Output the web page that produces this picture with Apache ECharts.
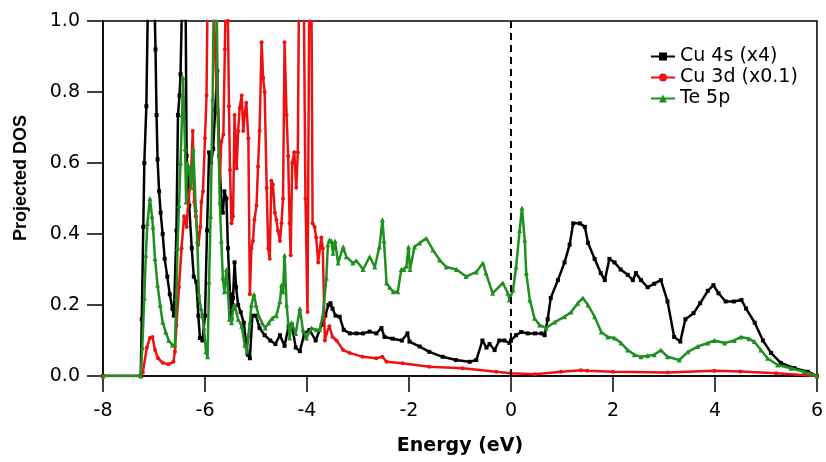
<!DOCTYPE html>
<html>
<head>
<meta charset="utf-8">
<script src="https://cdn.jsdelivr.net/npm/echarts@6/dist/echarts.min.js"></script>
<style>
html,body{margin:0;padding:0;background:#fff;}
#chart{width:826px;height:462px;}
</style>
</head>
<body>
<div id="chart"></div>
<script>
// Axis ticks
const xTicks = [-8, -6, -4, -2, 0, 2, 4, 6];
const yTicks = [0.0, 0.2, 0.4, 0.6, 0.8, 1.0];
const seriesNames = ['Cu 4s (x4)', 'Cu 3d (x0.1)', 'Te 5p'];
const fermiLevel = 0;

// Cu 4s (x4): [energy, DOS]
const cu4s = [[-8,0],[-7.26,0],[-7.24,0.16],[-7.21,0.42],[-7.19,0.6],[-7.15,0.76],[-7.12,1.05],[-7.05,1.4],[-6.99,1.05],[-6.97,0.92],[-6.95,0.735],[-6.93,0.61],[-6.9,0.52],[-6.87,0.46],[-6.83,0.4],[-6.79,0.33],[-6.74,0.28],[-6.69,0.23],[-6.64,0.19],[-6.61,0.17],[-6.56,0.41],[-6.53,0.735],[-6.5,0.79],[-6.48,0.85],[-6.45,1.05],[-6.42,1.4],[-6.38,1.05],[-6.36,0.62],[-6.31,0.48],[-6.26,0.36],[-6.22,0.28],[-6.17,0.265],[-6.13,0.17],[-6.1,0.107],[-6.05,0.1],[-6.0,0.17],[-5.96,0.41],[-5.92,0.63],[-5.88,0.6],[-5.84,0.64],[-5.8,0.75],[-5.76,0.86],[-5.72,0.62],[-5.68,0.49],[-5.65,0.46],[-5.62,0.52],[-5.58,0.5],[-5.55,0.36],[-5.51,0.23],[-5.48,0.16],[-5.45,0.22],[-5.42,0.32],[-5.39,0.25],[-5.35,0.2],[-5.3,0.18],[-5.24,0.15],[-5.2,0.1],[-5.16,0.06],[-5.12,0.05],[-5.07,0.17],[-5.0,0.17],[-4.93,0.135],[-4.83,0.115],[-4.72,0.1],[-4.62,0.09],[-4.53,0.115],[-4.44,0.085],[-4.36,0.14],[-4.3,0.145],[-4.22,0.08],[-4.14,0.07],[-4.05,0.12],[-3.95,0.13],[-3.83,0.1],[-3.71,0.145],[-3.64,0.17],[-3.58,0.2],[-3.54,0.205],[-3.5,0.19],[-3.44,0.17],[-3.36,0.167],[-3.28,0.13],[-3.16,0.12],[-3.03,0.12],[-2.9,0.12],[-2.77,0.125],[-2.64,0.12],[-2.54,0.135],[-2.48,0.11],[-2.32,0.105],[-2.14,0.1],[-2.03,0.12],[-1.99,0.097],[-1.79,0.083],[-1.6,0.068],[-1.34,0.054],[-1.08,0.045],[-0.81,0.04],[-0.68,0.045],[-0.56,0.1],[-0.48,0.08],[-0.42,0.09],[-0.32,0.073],[-0.23,0.1],[-0.13,0.1],[-0.03,0.093],[0.0,0.1],[0.1,0.115],[0.2,0.124],[0.33,0.12],[0.47,0.12],[0.6,0.12],[0.66,0.115],[0.72,0.16],[0.78,0.22],[0.92,0.27],[1.05,0.32],[1.15,0.37],[1.22,0.43],[1.35,0.43],[1.45,0.42],[1.51,0.375],[1.64,0.33],[1.76,0.29],[1.84,0.27],[1.93,0.33],[2.03,0.32],[2.15,0.3],[2.29,0.285],[2.39,0.27],[2.45,0.29],[2.55,0.27],[2.68,0.25],[2.81,0.26],[2.94,0.27],[3.07,0.21],[3.2,0.11],[3.32,0.097],[3.42,0.16],[3.58,0.177],[3.71,0.205],[3.86,0.24],[3.97,0.256],[4.07,0.233],[4.21,0.21],[4.37,0.21],[4.52,0.214],[4.61,0.19],[4.78,0.15],[4.94,0.1],[5.1,0.065],[5.29,0.037],[5.56,0.022],[5.82,0.012],[6.0,0.0]];

// Cu 3d (x0.1)
const cu3d = [[-8,0],[-7.26,0],[-7.22,0.01],[-7.14,0.08],[-7.08,0.107],[-7.03,0.11],[-6.98,0.073],[-6.92,0.05],[-6.83,0.037],[-6.72,0.033],[-6.62,0.04],[-6.59,0.068],[-6.56,0.144],[-6.51,0.25],[-6.46,0.36],[-6.41,0.45],[-6.36,0.42],[-6.33,0.49],[-6.28,0.55],[-6.24,0.69],[-6.21,0.49],[-6.18,0.45],[-6.13,0.37],[-6.09,0.42],[-6.07,0.49],[-6.04,0.52],[-6.0,0.67],[-5.97,0.79],[-5.94,1.2],[-5.9,1.3],[-5.85,1.2],[-5.8,0.9],[-5.75,0.74],[-5.71,0.55],[-5.68,0.66],[-5.64,0.68],[-5.61,0.92],[-5.58,1.2],[-5.55,1.0],[-5.53,0.76],[-5.51,0.58],[-5.48,0.43],[-5.45,0.45],[-5.42,0.735],[-5.38,0.585],[-5.35,0.69],[-5.32,0.755],[-5.28,0.79],[-5.25,0.69],[-5.22,0.74],[-5.19,0.77],[-5.15,0.67],[-5.12,0.23],[-5.09,0.36],[-5.06,0.38],[-5.03,0.44],[-4.99,0.48],[-4.96,0.59],[-4.93,0.69],[-4.89,0.94],[-4.86,0.84],[-4.83,0.8],[-4.79,0.53],[-4.76,0.36],[-4.73,0.33],[-4.7,0.55],[-4.67,0.54],[-4.63,0.46],[-4.6,0.44],[-4.57,0.41],[-4.53,0.38],[-4.5,0.43],[-4.47,0.5],[-4.44,0.94],[-4.4,0.735],[-4.37,0.62],[-4.34,0.43],[-4.32,0.34],[-4.29,0.6],[-4.25,0.63],[-4.21,0.53],[-4.18,0.63],[-4.15,1.2],[-4.1,1.3],[-4.07,1.2],[-4.03,0.5],[-3.99,0.18],[-3.95,1.2],[-3.92,1.3],[-3.89,0.43],[-3.85,0.42],[-3.82,0.39],[-3.78,0.32],[-3.72,0.39],[-3.69,0.36],[-3.65,0.1],[-3.62,0.12],[-3.56,0.14],[-3.5,0.11],[-3.42,0.1],[-3.29,0.073],[-3.16,0.065],[-2.91,0.054],[-2.64,0.05],[-2.52,0.054],[-2.44,0.04],[-2.13,0.036],[-1.6,0.026],[-0.95,0.022],[-0.29,0.012],[0.0,0.008],[0.47,0.005],[0.98,0.012],[1.37,0.016],[1.5,0.015],[2.0,0.012],[3.07,0.01],[3.99,0.015],[4.5,0.013],[5.2,0.008],[6.0,0]];

// Te 5p
const te5p = [[-8,0],[-7.26,0],[-7.23,0.08],[-7.19,0.22],[-7.16,0.34],[-7.13,0.43],[-7.08,0.5],[-7.04,0.45],[-7.02,0.42],[-6.98,0.33],[-6.93,0.256],[-6.88,0.2],[-6.83,0.152],[-6.77,0.124],[-6.71,0.1],[-6.64,0.087],[-6.59,0.087],[-6.56,0.22],[-6.54,0.36],[-6.51,0.48],[-6.48,0.6],[-6.45,0.735],[-6.43,0.84],[-6.39,0.64],[-6.37,0.49],[-6.35,0.6],[-6.31,0.585],[-6.27,0.53],[-6.23,0.64],[-6.18,0.47],[-6.15,0.38],[-6.12,0.23],[-6.08,0.19],[-6.05,0.17],[-6.02,0.135],[-5.98,0.068],[-5.95,0.054],[-5.92,0.265],[-5.89,0.45],[-5.85,0.78],[-5.82,1.2],[-5.78,1.2],[-5.75,0.755],[-5.71,0.49],[-5.68,0.38],[-5.65,0.276],[-5.62,0.237],[-5.58,0.3],[-5.55,0.24],[-5.52,0.16],[-5.48,0.15],[-5.45,0.19],[-5.42,0.2],[-5.35,0.16],[-5.28,0.14],[-5.22,0.087],[-5.18,0.068],[-5.15,0.115],[-5.12,0.15],[-5.09,0.2],[-5.04,0.23],[-5.0,0.2],[-4.95,0.17],[-4.88,0.15],[-4.82,0.135],[-4.75,0.15],[-4.68,0.163],[-4.6,0.17],[-4.53,0.21],[-4.5,0.256],[-4.47,0.237],[-4.44,0.34],[-4.4,0.2],[-4.34,0.107],[-4.3,0.15],[-4.22,0.12],[-4.14,0.19],[-4.08,0.13],[-4.01,0.107],[-3.91,0.135],[-3.82,0.13],[-3.75,0.13],[-3.69,0.17],[-3.62,0.276],[-3.59,0.37],[-3.56,0.383],[-3.52,0.38],[-3.49,0.346],[-3.45,0.38],[-3.39,0.318],[-3.29,0.364],[-3.23,0.336],[-3.1,0.318],[-3.03,0.325],[-2.9,0.3],[-2.77,0.336],[-2.67,0.307],[-2.58,0.364],[-2.52,0.44],[-2.49,0.38],[-2.44,0.262],[-2.38,0.25],[-2.31,0.237],[-2.22,0.237],[-2.15,0.3],[-2.1,0.3],[-2.05,0.31],[-2.01,0.364],[-1.98,0.3],[-1.89,0.364],[-1.79,0.375],[-1.66,0.388],[-1.53,0.355],[-1.4,0.327],[-1.27,0.307],[-1.07,0.3],[-0.88,0.28],[-0.68,0.293],[-0.55,0.318],[-0.49,0.29],[-0.36,0.233],[-0.16,0.262],[-0.06,0.233],[-0.03,0.214],[0.04,0.242],[0.1,0.307],[0.17,0.41],[0.215,0.473],[0.27,0.383],[0.3,0.29],[0.37,0.214],[0.46,0.163],[0.56,0.144],[0.69,0.135],[0.86,0.152],[1.05,0.167],[1.18,0.18],[1.31,0.205],[1.41,0.22],[1.51,0.2],[1.64,0.167],[1.77,0.124],[1.9,0.11],[2.03,0.107],[2.16,0.093],[2.29,0.073],[2.42,0.06],[2.55,0.054],[2.68,0.057],[2.81,0.06],[2.94,0.073],[3.07,0.054],[3.3,0.045],[3.47,0.068],[3.66,0.083],[3.86,0.093],[3.99,0.1],[4.19,0.093],[4.38,0.1],[4.51,0.11],[4.67,0.105],[4.77,0.097],[4.9,0.073],[5.03,0.05],[5.23,0.031],[5.49,0.022],[5.75,0.012],[6.0,0]];

const colors = ['#000000', '#ee1111', '#1f8f1f'];
const symbols = ['rect', 'circle', 'triangle'];
const allData = [cu4s, cu3d, te5p];

const chart = echarts.init(document.getElementById('chart'));
const FONT = 'DejaVu Sans';

const series = allData.map((d, i) => ({
  name: seriesNames[i],
  type: 'line',
  data: d,
  clip: true,
  showSymbol: true,
  showAllSymbol: true,
  symbol: symbols[i],
  symbolSize: i === 2 ? 5 : 4,
  lineStyle: { color: colors[i], width: 2.5 },
  itemStyle: { color: colors[i] },
  emphasis: { disabled: true },
  animation: false,
  z: 2 + i
}));

series[0].markLine = {
  silent: true,
  symbol: ['none', 'none'],
  label: { show: false },
  lineStyle: { type: [7, 5], color: '#000', width: 2 },
  data: [[{ coord: [fermiLevel, yTicks[0]] }, { coord: [fermiLevel, yTicks[yTicks.length - 1]] }]],
  animation: false
};

chart.setOption({
  animation: false,
  backgroundColor: '#fff',
  grid: {
    left: 103, right: 7, top: 21, bottom: 86,
    show: true, borderColor: '#000', borderWidth: 1.5, backgroundColor: 'transparent'
  },
  legend: {
    data: seriesNames,
    orient: 'vertical',
    left: 645, top: 42,
    itemWidth: 24, itemHeight: 10, itemGap: 2,
    textStyle: { fontFamily: FONT, fontSize: 19, color: '#000', lineHeight: 19 }
  },
  xAxis: {
    type: 'value',
    min: xTicks[0], max: xTicks[xTicks.length - 1], interval: 2,
    name: 'Energy (eV)', nameLocation: 'middle', nameGap: 61,
    nameTextStyle: { fontFamily: FONT, fontSize: 19, fontWeight: 'bold', color: '#000' },
    axisLine: { show: true, onZero: false, lineStyle: { color: '#000', width: 1.5 } },
    axisTick: { show: true, inside: false, length: 16, lineStyle: { color: '#000', width: 1.5 } },
    axisLabel: { fontFamily: FONT, fontSize: 19, color: '#000', margin: 26 },
    splitLine: { show: false }
  },
  yAxis: {
    type: 'value',
    min: yTicks[0], max: yTicks[yTicks.length - 1], interval: 0.2,
    axisLine: { show: true, onZero: false, lineStyle: { color: '#000', width: 1.5 } },
    axisTick: { show: true, inside: false, length: 16, lineStyle: { color: '#000', width: 1.5 } },
    axisLabel: { fontFamily: FONT, fontSize: 19, color: '#000', margin: 23, formatter: v => v.toFixed(1) },
    splitLine: { show: false }
  },
  graphic: [{
    type: 'text',
    x: 21, y: 178,
    rotation: Math.PI / 2,
    style: {
      text: 'Projected DOS',
      fontFamily: 'Liberation Sans',
      fontSize: 18, fontWeight: 'bold', fill: '#000',
      textAlign: 'center', textVerticalAlign: 'middle'
    }
  }],
  series: series
});
</script>
</body>
</html>
